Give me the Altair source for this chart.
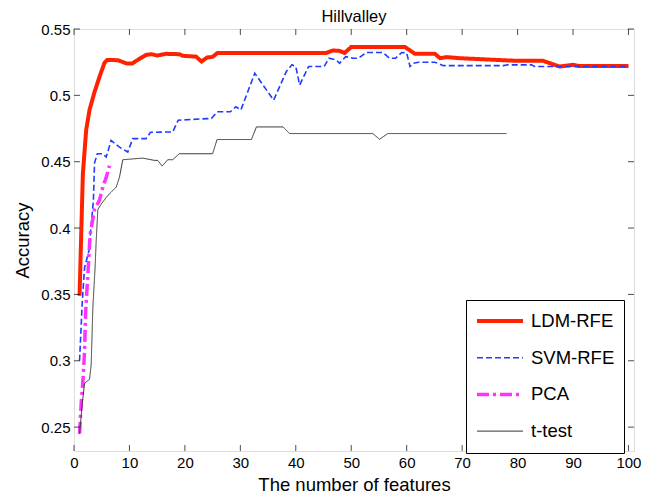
import altair as alt
import pandas as pd

# ---------------- data ----------------
series_names = ["LDM-RFE", "SVM-RFE", "PCA", "t-test"]

ldm_x = [1, 1.6, 2.2, 2.8, 3.7, 4.6, 5.5, 6.0, 7.9, 9.5, 10.5, 11.3, 13, 14, 15, 16.6, 19, 19.6, 22, 23,
         24, 25, 25.9, 45.5, 46.7, 47.9, 48.8, 50, 59.7, 61.5, 65.1, 66.0, 67.2, 69.6, 76.2, 80.1, 84.6, 85.5,
         87.6, 90, 91, 100]
ldm_y = [0.349, 0.441, 0.474, 0.489, 0.5025, 0.514, 0.5245, 0.5267, 0.5265, 0.524, 0.524, 0.5262, 0.5305,
         0.5310, 0.5300, 0.5313, 0.531, 0.5298, 0.5292, 0.5255, 0.5285, 0.529, 0.532, 0.532, 0.5338, 0.5335,
         0.532, 0.5364, 0.5364, 0.5313, 0.5313, 0.528, 0.5288, 0.528, 0.5267, 0.526, 0.526, 0.5247, 0.5217,
         0.523, 0.5222, 0.5222]

svm_x = [1.0, 1.5, 1.9, 2.7, 3.1, 3.5, 3.7, 4.2, 5.2, 5.8, 6.7, 8.2, 9.7, 10.6, 13.0, 13.8, 17.8, 18.8,
         24.8, 25.8, 28.2, 29.2, 30.1, 32.6, 36.0, 38.3, 39.3, 40.0, 40.7, 42.3, 45.1, 46.0, 47.3, 47.9,
         49.0, 50.3, 51.3, 52.7, 55.7, 56.9, 58.0, 59.1, 60.0, 60.6, 61.2, 62.1, 65.1, 66.6, 77.4, 78.3,
         82.5, 83.1, 100]
svm_y = [0.300, 0.345, 0.370, 0.383, 0.402, 0.421, 0.449, 0.456, 0.456, 0.4535, 0.466, 0.461, 0.4573,
         0.4674, 0.4674, 0.4722, 0.4724, 0.4813, 0.4826, 0.4876, 0.4876, 0.4914, 0.489, 0.5167, 0.4964,
         0.518, 0.523, 0.5217, 0.5078, 0.5217, 0.5217, 0.528, 0.5267, 0.5242, 0.5292, 0.528, 0.528, 0.5323,
         0.5323, 0.528, 0.528, 0.5323, 0.532, 0.5217, 0.5242, 0.525, 0.525, 0.5224, 0.5224, 0.523, 0.523,
         0.5217, 0.5217]

pca_x = [1, 1.3, 1.6, 1.9, 2.1, 2.5, 2.9, 3.7, 4.6, 5.2, 5.8, 6.4]
pca_y = [0.245, 0.268, 0.284, 0.307, 0.337, 0.365, 0.395, 0.414, 0.421, 0.431, 0.438, 0.447]

ttest_x = [1, 1.5, 1.9, 2.8, 3.1, 3.4, 3.8, 4.0, 4.3, 4.9, 5.8, 6.4, 7.6, 8.2, 8.8, 11.2, 12.4, 14.5,
           15.1, 15.9, 16.9, 17.8, 19, 25, 25.8, 32, 32.9, 37.7, 38.9, 53.9, 55.1, 56.6, 78]
ttest_y = [0.245, 0.268, 0.283, 0.286, 0.297, 0.34, 0.37, 0.39, 0.414, 0.418, 0.423, 0.4258, 0.4308,
           0.4383, 0.4515, 0.4523, 0.4527, 0.451, 0.451, 0.4467, 0.4515, 0.4515, 0.456, 0.456, 0.4667,
           0.4667, 0.4762, 0.4762, 0.4712, 0.4712, 0.4669, 0.4712, 0.4712]

x_ticks = [0, 10, 20, 30, 40, 50, 60, 70, 80, 90, 100]
y_ticks = [0.25, 0.3, 0.35, 0.4, 0.45, 0.5, 0.55]
chart_title = "Hillvalley"

# ---------------- styles ----------------
series_colors = ["#ff2200", "#1f3cff", "#ff33ff", "#333333"]
series_dash = [[1, 0], [6, 3], [12, 4, 3, 4], [1, 0]]
series_width = [4, 1.6, 3.5, 1]

rows = []
for name, xs, ys in zip(series_names, [ldm_x, svm_x, pca_x, ttest_x], [ldm_y, svm_y, pca_y, ttest_y]):
    for i, (a, b) in enumerate(zip(xs, ys)):
        rows.append({"series": name, "features": a, "acc": b, "ord": i})
df = pd.DataFrame(rows)

W, H = 560, 422
FONT = "Liberation Sans"
xscale = alt.Scale(domain=[0, 101], nice=False, zero=False)
yscale = alt.Scale(domain=[0.232, 0.55], nice=False, zero=False)

legend = alt.Legend(
    title=None, orient="none", legendX=392, legendY=271,
    symbolType="stroke", symbolSize=2116, clipHeight=24,
    labelFontSize=18.5, labelFont=FONT, labelColor="black", labelOffset=6,
    labelExpr="datum.label + '\u2002\u00a0\u00a0\u00a0\u00a0'",
    fillColor="white", strokeColor="black", padding=9, rowPadding=12.7,
)

lines = alt.Chart(df).mark_line().encode(
    x=alt.X("features:Q", scale=xscale,
            axis=alt.Axis(values=x_ticks, format="d", ticks=False, tickSize=0, domain=False, grid=False,
                          labelFontSize=15, labelFont=FONT, labelColor="black", labelPadding=4,
                          labelFlush=False, labelOverlap=False,
                          title="The number of features", titleFontSize=18.5, titleFont=FONT,
                          titleFontWeight="normal", titleColor="black", titleBaseline="alphabetic",
                          titleY=39, titleX=W / 2, titleAlign="center")),
    y=alt.Y("acc:Q", scale=yscale,
            axis=alt.Axis(values=y_ticks, format=".2~f", ticks=False, tickSize=0, domain=False, grid=False,
                          labelFontSize=15, labelFont=FONT, labelColor="black", labelPadding=4,
                          labelFlush=False, labelOverlap=False,
                          title="Accuracy", titleFontSize=18.5, titleFont=FONT, titleFontWeight="normal",
                          titleColor="black", titleX=-52, titleY=H / 2, titleAngle=270,
                          titleAlign="center", titleBaseline="middle")),
    color=alt.Color("series:N", scale=alt.Scale(domain=series_names, range=series_colors), legend=legend),
    strokeDash=alt.StrokeDash("series:N", scale=alt.Scale(domain=series_names, range=series_dash), legend=legend),
    strokeWidth=alt.StrokeWidth("series:N", scale=alt.Scale(type="ordinal", domain=series_names, range=series_width), legend=legend),
    order="ord:Q",
)

xt = pd.DataFrame({"v": x_ticks})
yt = pd.DataFrame({"v": y_ticks})
tick_style = dict(color="black", size=6, thickness=1)
bottom = alt.Chart(xt).mark_tick(orient="vertical", **tick_style).encode(
    x=alt.X("v:Q", scale=xscale), y=alt.value(H - 3))
top = alt.Chart(xt).mark_tick(orient="vertical", **tick_style).encode(
    x=alt.X("v:Q", scale=xscale), y=alt.value(3))
left = alt.Chart(yt).mark_tick(orient="horizontal", **tick_style).encode(
    y=alt.Y("v:Q", scale=yscale), x=alt.value(3))
right = alt.Chart(yt).mark_tick(orient="horizontal", **tick_style).encode(
    y=alt.Y("v:Q", scale=yscale), x=alt.value(W - 3))

# chart title as a text mark placed above the plot frame
title_mark = alt.Chart(pd.DataFrame({"t": [chart_title]})).mark_text(
    font=FONT, fontSize=16.5, color="black", align="center", baseline="alphabetic"
).encode(text="t:N", x=alt.value(W / 2), y=alt.value(-7.5))

chart = alt.layer(lines, bottom, top, left, right, title_mark).properties(
    width=W, height=H,
    autosize=alt.AutoSizeParams(type="none"),
    padding={"left": 66, "top": 21, "right": 14, "bottom": 44},
).configure_view(stroke="black", strokeWidth=1).configure(background="white")

chart.save("out.html", embed_options={"renderer": "svg", "actions": False})
